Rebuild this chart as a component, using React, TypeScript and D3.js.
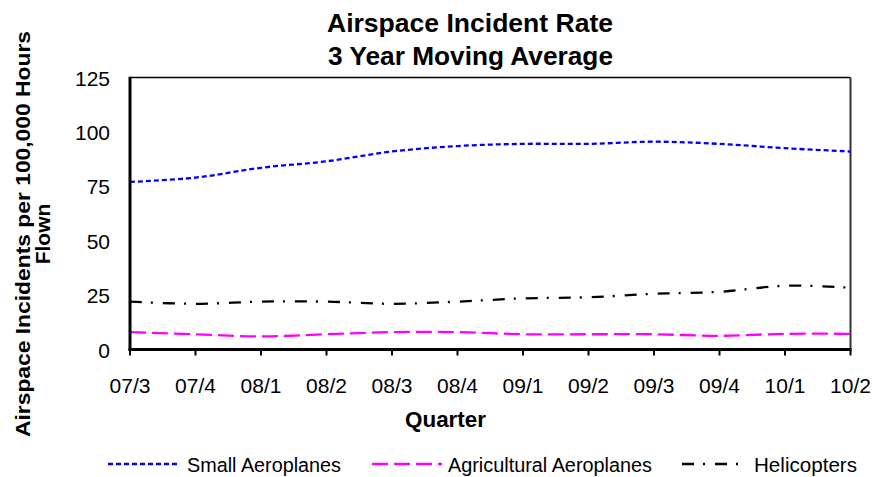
import React from "react";
import * as d3 from "d3";

const quarters = ["07/3", "07/4", "08/1", "08/2", "08/3", "08/4", "09/1", "09/2", "09/3", "09/4", "10/1", "10/2"];
const smallAeroplanes = [77, 79, 83.5, 86.5, 91, 93.5, 94.5, 94.5, 95.5, 94.5, 92.5, 91];
const agriculturalAeroplanes = [8, 7, 6, 7, 8, 8, 7, 7, 7, 6.3, 7.2, 7.2];
const helicopters = [22, 21, 22, 22, 21, 22, 23.5, 24, 25.6, 26.5, 29.3, 28.4];
const yTicks = [0, 25, 50, 75, 100, 125];

const seriesNames = ["Small Aeroplanes", "Agricultural Aeroplanes", "Helicopters"];
const seriesColors = ["#0000ff", "#ff00ff", "#000000"];
const seriesDash = ["5,3", "16,6", "12,9,2,10"];

export default function App() {
  const W = 874, H = 477;
  const left = 130, right = 850.5, top = 77.5, bottom = 349.5;
  const x = d3.scalePoint<string>().domain(quarters).range([left, right]);
  const y = d3.scaleLinear().domain([0, 125]).range([bottom, top]);
  const line = d3
    .line<number>()
    .x((_, i) => x(quarters[i]) as number)
    .y((d) => y(d))
    .curve(d3.curveCatmullRom.alpha(0.5));
  const data = [smallAeroplanes, agriculturalAeroplanes, helicopters];
  const font = "Arial, 'Liberation Sans', sans-serif";
  const legendLineX = [108, 372, 682];
  const legendLineW = [72, 70, 66];
  const legendTextX = [187, 448, 754];
  const legendTextW = [154, 204, 103];
  return (
    <svg width={W} height={H} style={{ position: "absolute", left: 0, top: 0 }} fontFamily={font}>
      <rect x={0} y={0} width={W} height={H} fill="#fff" />
      <text x={470} y={32} textAnchor="middle" fontSize={25} fontWeight="bold" textLength={286} lengthAdjust="spacingAndGlyphs">Airspace Incident Rate</text>
      <text x={470.5} y={65} textAnchor="middle" fontSize={25} fontWeight="bold" textLength={285} lengthAdjust="spacingAndGlyphs">3 Year Moving Average</text>
      <line x1={left} x2={right} y1={top} y2={top} stroke="#000" strokeWidth={1.5} />
      <line x1={right} x2={right} y1={top} y2={bottom} stroke="#333" strokeWidth={2} />
      {data.map((d, i) => (
        <path key={i} d={line(d) || ""} fill="none" stroke={seriesColors[i]} strokeWidth={2.3} strokeDasharray={seriesDash[i]} />
      ))}
      <line x1={left} x2={left} y1={top - 0.75} y2={bottom + 1.5} stroke="#000" strokeWidth={3} />
      <line x1={left - 1.5} x2={right + 1} y1={bottom} y2={bottom} stroke="#000" strokeWidth={3} />
      {quarters.map((q) => (
        <g key={q}>
          <line x1={x(q)} x2={x(q)} y1={bottom} y2={bottom + 6} stroke="#000" strokeWidth={2} />
          <text x={x(q)} y={393} textAnchor="middle" fontSize={21}>{q}</text>
        </g>
      ))}
      {yTicks.map((t) => (
        <text key={t} x={110} y={y(t) + 8} textAnchor="end" fontSize={21}>{t}</text>
      ))}
      <text x={445.5} y={427} textAnchor="middle" fontSize={22} fontWeight="bold" textLength={81} lengthAdjust="spacingAndGlyphs">Quarter</text>
      <g transform="translate(30,234) rotate(-90)">
        <text x={0} y={0} textAnchor="middle" fontSize={20} fontWeight="bold" textLength={406} lengthAdjust="spacingAndGlyphs">Airspace Incidents per 100,000 Hours</text>
        <text x={0} y={20} textAnchor="middle" fontSize={21} fontWeight="bold">Flown</text>
      </g>
      {seriesNames.map((n, i) => (
        <g key={n}>
          <line x1={legendLineX[i]} x2={legendLineX[i] + legendLineW[i]} y1={464} y2={464} stroke={seriesColors[i]} strokeWidth={2.3} strokeDasharray={seriesDash[i]} />
          <text x={legendTextX[i]} y={471.5} fontSize={19.5} textLength={legendTextW[i]} lengthAdjust="spacingAndGlyphs">{n}</text>
        </g>
      ))}
    </svg>
  );
}
